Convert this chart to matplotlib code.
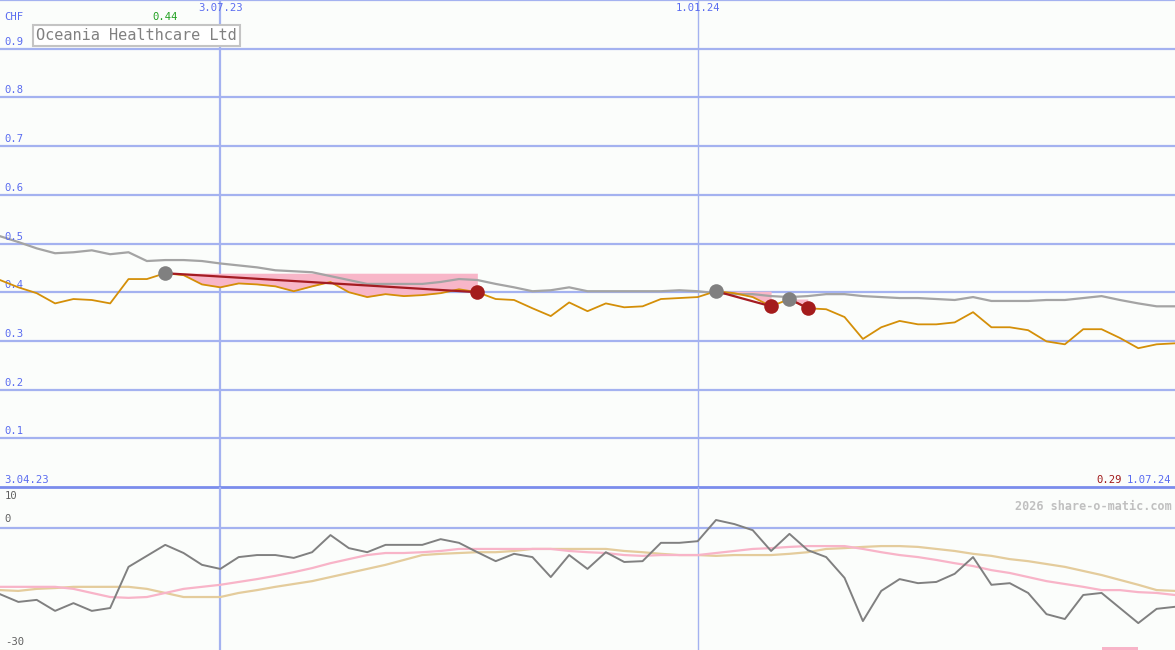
import numpy as np
import pandas as pd
import matplotlib
matplotlib.use("Agg")
import matplotlib.pyplot as plt
import matplotlib.transforms as mtransforms

# weekly closes, CHF
dates = pd.date_range("2023-04-10", periods=65, freq="7D")
price = [0.425, 0.410, 0.398, 0.377, 0.386, 0.384, 0.377, 0.427, 0.427, 0.439,
         0.435, 0.416, 0.410, 0.418, 0.416, 0.412, 0.402, 0.412, 0.421, 0.400,
         0.390, 0.396, 0.392, 0.394, 0.398, 0.406, 0.400, 0.386, 0.384, 0.367,
         0.351, 0.379, 0.361, 0.377, 0.369, 0.371, 0.386, 0.388, 0.390, 0.402,
         0.398, 0.390, 0.371, 0.386, 0.367, 0.365, 0.349, 0.304, 0.328, 0.341,
         0.334, 0.334, 0.338, 0.359, 0.328, 0.328, 0.322, 0.299, 0.293, 0.324,
         0.324, 0.306, 0.285, 0.293, 0.295]
avg = [0.515, 0.503, 0.490, 0.480, 0.482, 0.486, 0.478, 0.482, 0.464, 0.466,
       0.466, 0.464, 0.459, 0.455, 0.451, 0.445, 0.443, 0.441, 0.433, 0.425,
       0.417, 0.417, 0.417, 0.417, 0.421, 0.427, 0.425, 0.417, 0.410, 0.402,
       0.404, 0.410, 0.402, 0.402, 0.402, 0.402, 0.402, 0.404, 0.402, 0.398,
       0.396, 0.396, 0.392, 0.390, 0.392, 0.396, 0.396, 0.392, 0.390, 0.388,
       0.388, 0.386, 0.384, 0.390, 0.382, 0.382, 0.382, 0.384, 0.384, 0.388,
       0.392, 0.384, 0.377, 0.371, 0.371]
momentum = [-16.3, -18.2, -17.7, -20.4, -18.5, -20.4, -19.7, -9.6, -6.9, -4.2,
            -6.2, -9.1, -10.1, -7.2, -6.7, -6.7, -7.4, -6.0, -1.8, -5.0,
            -6.0, -4.2, -4.2, -4.2, -2.8, -3.7, -6.0, -8.2, -6.4, -7.2,
            -12.1, -6.7, -10.1, -6.0, -8.4, -8.2, -3.7, -3.7, -3.3, 1.9,
            0.9, -0.6, -5.7, -1.5, -5.5, -7.2, -12.3, -22.9, -15.5, -12.6,
            -13.6, -13.3, -11.3, -7.2, -14.0, -13.6, -16.0, -21.2, -22.4, -16.5,
            -16.0, -19.7, -23.4, -19.9, -19.4]
mom_fast = [-14.5, -14.5, -14.5, -14.5, -15.0, -16.0, -17.0, -17.2, -17.0, -16.0,
            -15.0, -14.5, -14.0, -13.3, -12.6, -11.8, -10.9, -9.9, -8.7, -7.7,
            -6.7, -6.2, -6.2, -6.0, -5.7, -5.2, -5.2, -5.2, -5.2, -5.2,
            -5.2, -5.7, -6.0, -6.2, -6.7, -6.9, -6.7, -6.7, -6.7, -6.2,
            -5.7, -5.2, -5.0, -4.7, -4.5, -4.5, -4.5, -5.2, -6.0, -6.7,
            -7.2, -7.9, -8.7, -9.4, -10.4, -11.1, -12.1, -13.1, -13.8, -14.5,
            -15.3, -15.3, -15.8, -16.0, -16.5]
mom_slow = [-15.3, -15.5, -15.0, -14.8, -14.5, -14.5, -14.5, -14.5, -15.0, -16.0,
            -17.0, -17.0, -17.0, -16.0, -15.3, -14.5, -13.8, -13.1, -12.1, -11.1,
            -10.1, -9.1, -7.9, -6.7, -6.4, -6.2, -6.0, -6.0, -5.7, -5.2,
            -5.2, -5.2, -5.2, -5.2, -5.7, -6.0, -6.4, -6.7, -6.7, -6.9,
            -6.7, -6.7, -6.7, -6.4, -6.0, -5.2, -5.0, -4.7, -4.5, -4.5,
            -4.7, -5.2, -5.7, -6.4, -6.9, -7.7, -8.2, -8.9, -9.6, -10.6,
            -11.6, -12.8, -14.0, -15.3, -15.5]
# downtrend segments: (start index, end index)
trends = [(9, 26), (39, 42), (43, 44)]
signal = (60, 62)
date_lines = [pd.Timestamp("2023-07-03"), pd.Timestamp("2024-01-01")]
date_labels = ["3.07.23", "1.01.24"]
first_label, last_label = "3.04.23", "1.07.24"
price_ticks = [0.1, 0.2, 0.3, 0.4, 0.5, 0.6, 0.7, 0.8, 0.9]

bg = "#fbfdfb"
grid = "#a4b2f0"
sep = "#7a8cec"
blue = "#5a6cf0"
mono = "DejaVu Sans Mono"
fs = 7.6

fig = plt.figure(figsize=(11.75, 6.5), dpi=100, facecolor=bg)
ax = fig.add_axes([0, 1 - 487 / 650, 1, 487 / 650])
axm = fig.add_axes([0, 0, 1, 1 - 487 / 650])
for a in (ax, axm):
    a.patch.set_visible(False)
    for s in a.spines.values():
        s.set_visible(False)
    a.set_xticks([])
    a.set_yticks([])
    a.set_xlim(dates[0], dates[-1])
    a.axvline(date_lines[0], color=grid, lw=1.6, zorder=1)
    a.axvline(date_lines[1], color=grid, lw=1.0, zorder=1)

# price panel
ax.set_ylim(0, 1.0)
for v in price_ticks:
    ax.axhline(v, color=grid, lw=1.6, zorder=1)
ax.axhline(1.0, color=grid, lw=1.6, zorder=1, clip_on=False)
ax.axhline(0, color=sep, lw=2.0, zorder=7, clip_on=False)

for s, e in trends:
    ax.fill_between(dates[s:e + 1], price[s], price[s:e + 1], color="#f8b6c8", lw=0, zorder=2)
ax.plot(dates, avg, color="#a4a4a4", lw=1.6, zorder=3)
ax.plot(dates, price, color="#d48f08", lw=1.3, zorder=4)
for s, e in trends:
    ax.plot([dates[s], dates[e]], [price[s], price[e]], color="#a41c22", lw=1.6, zorder=5)
    ax.scatter([dates[s]], [price[s]], s=110, color="#808080", zorder=6, lw=0)
    ax.scatter([dates[e]], [price[e]], s=110, color="#a41c1c", zorder=6, lw=0)

ty = mtransforms.blended_transform_factory(ax.transAxes, ax.transData)
for v in price_ticks:
    ax.text(0.004, v + 0.004, f"{v:.1f}", transform=ty, color=blue, fontsize=fs,
            family=mono, va="bottom", ha="left")
ax.text(0.004, 0.958, "CHF", transform=ax.transAxes, color=blue, fontsize=fs, family=mono)
tx = mtransforms.blended_transform_factory(ax.transData, ax.transAxes)
for d, lab in zip(date_lines, date_labels):
    ax.text(d, 0.978, lab, transform=tx, color=blue, fontsize=fs, family=mono, ha="center")
imax = int(np.argmax(price))
ax.text(dates[imax], 0.958, f"{price[imax]:.2f}", transform=tx, color="#20a020",
        fontsize=fs, family=mono, ha="center")
ax.text(0.004, 0.008, first_label, transform=ax.transAxes, color=blue, fontsize=fs, family=mono)
ax.text(0.997, 0.008, last_label, transform=ax.transAxes, color=blue, fontsize=fs,
        family=mono, ha="right")
ax.text(0.955, 0.008, f"{price[-1]:.2f}", transform=ax.transAxes, color="#a01818",
        fontsize=fs, family=mono, ha="right")
ax.text(0.031, 0.9175, "Oceania Healthcare Ltd", transform=ax.transAxes, color="#808080",
        fontsize=11, family=mono,
        bbox=dict(boxstyle="square,pad=0.2", fc="#ffffff", ec="#c4c4c4", lw=1.5))

# momentum panel
axm.set_ylim(-30, 10)
axm.axhline(0, color=grid, lw=1.6, zorder=1)
axm.plot(dates, mom_slow, color="#e4cc9c", lw=1.6, zorder=3)
axm.plot(dates, mom_fast, color="#f8b4c8", lw=1.6, zorder=3)
axm.plot(dates, momentum, color="#808080", lw=1.4, zorder=4)
axm.fill_between(dates[signal[0]:signal[1] + 1], -30, -29.3, color="#f8b4c8", lw=0, zorder=2)
tm = mtransforms.blended_transform_factory(axm.transAxes, axm.transData)
axm.text(0.004, 6.6, "10", transform=tm, color="#606060", fontsize=fs, family=mono, va="bottom")
axm.text(0.004, 0.8, "0", transform=tm, color="#606060", fontsize=fs, family=mono, va="bottom")
axm.text(0.004, -29.2, "-30", transform=tm, color="#606060", fontsize=fs, family=mono, va="bottom")
axm.text(0.997, 0.86, "2026 share-o-matic.com", transform=axm.transAxes, color="#c0c0c0",
         fontsize=8.5, family=mono, ha="right", weight="bold")

fig.savefig("out.png", dpi=100, facecolor=bg)
